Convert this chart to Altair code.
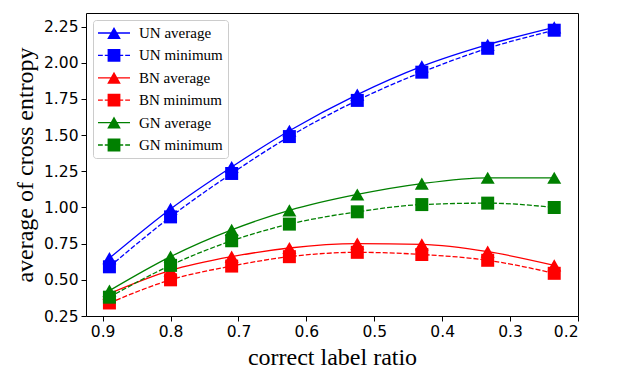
import altair as alt
import pandas as pd

# ---- data ----
ratio = [0.89, 0.80, 0.71, 0.625, 0.525, 0.43, 0.333, 0.235]
un_avg = [0.65, 0.99, 1.28, 1.53, 1.78, 1.975, 2.125, 2.245]
un_min = [0.59, 0.935, 1.235, 1.49, 1.74, 1.935, 2.10, 2.225]
bn_avg = [0.405, 0.565, 0.66, 0.72, 0.75, 0.745, 0.695, 0.60]
bn_min = [0.34, 0.50, 0.595, 0.66, 0.69, 0.675, 0.635, 0.545]
gn_avg = [0.425, 0.66, 0.845, 0.98, 1.09, 1.165, 1.205, 1.205]
gn_min = [0.38, 0.60, 0.77, 0.885, 0.97, 1.02, 1.03, 1.00]

series_names = ["UN average", "UN minimum", "BN average", "BN minimum", "GN average", "GN minimum"]
series_values = [un_avg, un_min, bn_avg, bn_min, gn_avg, gn_min]
series_colors = ["#0000ff", "#0000ff", "#ff0000", "#ff0000", "#008000", "#008000"]

x_ticks = [0.9, 0.8, 0.7, 0.6, 0.5, 0.4, 0.3, 0.2]
y_ticks = [0.25, 0.5, 0.75, 1.0, 1.25, 1.5, 1.75, 2.0, 2.25]

rows = []
for name, vals in zip(series_names, series_values):
    for r, v in zip(ratio, vals):
        rows.append({"series": name, "ratio": r, "value": v})
df = pd.DataFrame(rows)

# legend symbols: line + marker (filled shapes only)
tri_sym = "M-2,-0.08H2V0.08H-2Z M0,-0.75L0.85,0.75H-0.85Z"
sq_sym = ("M-2,-0.08H-1.4V0.08H-2Z M-1.15,-0.08H-0.8V0.08H-1.15Z "
          "M-0.8,-0.8H0.8V0.8H-0.8Z "
          "M0.8,-0.08H1.15V0.08H0.8Z M1.4,-0.08H2V0.08H1.4Z")
legend_shapes = [tri_sym, sq_sym, tri_sym, sq_sym, tri_sym, sq_sym]

x_enc = alt.X("ratio:Q",
              scale=alt.Scale(domain=[0.2, 0.9245], reverse=True, nice=False, zero=False),
              axis=alt.Axis(values=x_ticks, format=".1f", title="correct label ratio"))
y_enc = alt.Y("value:Q",
              scale=alt.Scale(domain=[0.25, 2.344], nice=False, zero=False),
              axis=alt.Axis(values=y_ticks, format=".2f", title="average of cross entropy"))

base = alt.Chart(df)
layers = []
for name, col in zip(series_names, series_colors):
    is_min = "minimum" in name
    sub = base.transform_filter(alt.datum.series == name)
    line_kwargs = dict(color=col, strokeWidth=1.3, interpolate="monotone")
    if is_min:
        line_kwargs["strokeDash"] = [5, 2]
    layers.append(sub.mark_line(**line_kwargs).encode(x=x_enc, y=y_enc))
    layers.append(sub.mark_point(shape="square" if is_min else "triangle-up",
                                 filled=True, opacity=1, color=col,
                                 size=169 if is_min else 196).encode(x=x_enc, y=y_enc))

leg = alt.Legend(title=None, orient="top-left", offset=7, padding=5, rowPadding=6.4,
                 strokeColor="#cccccc", fillColor="#ffffff", cornerRadius=3,
                 symbolSize=256, symbolStrokeWidth=0, symbolOffset=8, labelOffset=17,
                 labelFont="Liberation Serif", labelFontSize=15, labelColor="#000000",
                 labelLimit=300)
legend_layer = base.transform_filter("false").mark_point(filled=True, opacity=1).encode(
    x=x_enc, y=y_enc,
    color=alt.Color("series:N", scale=alt.Scale(domain=series_names, range=series_colors), legend=leg),
    shape=alt.Shape("series:N", scale=alt.Scale(domain=series_names, range=legend_shapes), legend=leg),
)
layers.append(legend_layer)

chart = alt.layer(*layers).properties(
    width=492, height=303,
    autosize=alt.AutoSizeParams(type="none"),
    padding={"left": 78, "top": 5, "right": 37, "bottom": 60},
).configure_view(
    stroke="#000000", strokeWidth=1
).configure_axis(
    domain=False, grid=False, ticks=True, tickColor="#000000", tickSize=5, tickWidth=1,
    labelFont="DejaVu Sans", labelFontSize=15.5, labelColor="#000000", labelPadding=3,
    titleFont="Liberation Serif", titleFontSize=24, titleFontWeight="normal", titleColor="#000000",
).configure_axisY(titlePadding=6).configure_axisX(titlePadding=6)

chart.save("out.html", embed_options={"renderer": "svg", "actions": False})
